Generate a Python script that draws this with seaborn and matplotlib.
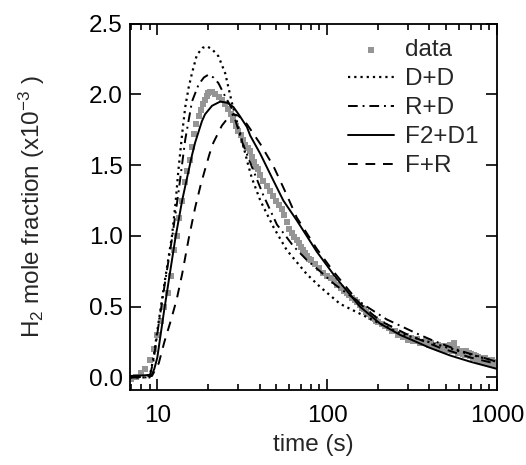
import numpy as np
import pandas as pd
import seaborn as sns
import matplotlib.pyplot as plt

# measured H2 signal (x1e-3)
t_data = [7.0, 7.5, 8.0, 8.5, 9.0, 9.5, 10.0, 10.5, 11.0, 11.5, 12.0, 12.5, 13.0, 13.5,
          14.0, 14.5, 15.0, 15.5, 16.0, 16.5, 17.0, 17.5, 18.0, 18.5, 19.0, 19.5, 20.0,
          20.5, 21, 22, 23, 24, 25, 26, 27, 28, 29, 30, 31, 32, 33, 34, 35, 36, 37, 38,
          39, 40, 42, 44, 46, 48, 50, 52, 54, 56, 58, 60, 62, 64, 66, 68, 70, 72, 74, 76,
          78, 80, 85, 90, 95, 100, 105, 110, 115, 120, 125, 130, 135, 140, 145, 150, 155,
          160, 165, 170, 175, 180, 185, 190, 195, 200, 210, 220, 230, 240, 250, 260, 270,
          280, 290, 300, 310, 320, 330, 340, 350, 360, 370, 380, 390, 400, 410, 420, 430,
          440, 450, 460, 470, 480, 490, 500, 510, 520, 530, 540, 550, 560, 570, 580, 590,
          600, 610, 620, 630, 640, 650, 660, 670, 680, 690, 700, 710, 720, 730, 740, 750,
          760, 770, 780, 790, 800, 810, 820, 830, 840, 850, 860, 870, 880, 890, 900, 910,
          920, 930, 940, 950, 960, 970, 980, 990, 1000]
h2_data = [-0.01, 0.0, 0.03, 0.06, 0.12, 0.20, 0.30, 0.40, 0.50, 0.60, 0.72, 0.90, 1.00,
           1.13, 1.25, 1.38, 1.46, 1.54, 1.63, 1.72, 1.79, 1.85, 1.89, 1.93, 1.96, 1.99,
           2.01, 2.02, 2.02, 2.00, 1.98, 1.96, 1.93, 1.90, 1.86, 1.82, 1.78, 1.74, 1.71,
           1.68, 1.64, 1.62, 1.60, 1.56, 1.52, 1.49, 1.47, 1.43, 1.39, 1.35, 1.32, 1.28,
           1.25, 1.22, 1.19, 1.15, 1.10, 1.05, 1.02, 0.99, 0.97, 0.95, 0.92, 0.90, 0.88,
           0.86, 0.84, 0.83, 0.80, 0.77, 0.74, 0.72, 0.70, 0.68, 0.65, 0.63, 0.61, 0.60,
           0.58, 0.56, 0.55, 0.53, 0.51, 0.49, 0.48, 0.46, 0.45, 0.43, 0.42, 0.41, 0.40,
           0.39, 0.375, 0.36, 0.35, 0.325, 0.33, 0.30, 0.31, 0.285, 0.29, 0.265, 0.275,
           0.26, 0.255, 0.27, 0.245, 0.25, 0.24, 0.255, 0.235, 0.23, 0.24, 0.22, 0.225,
           0.215, 0.23, 0.205, 0.215, 0.20, 0.225, 0.205, 0.195, 0.21, 0.23, 0.19, 0.20,
           0.24, 0.185, 0.20, 0.175, 0.19, 0.17, 0.185, 0.165, 0.175, 0.16, 0.185, 0.155,
           0.17, 0.15, 0.165, 0.15, 0.14, 0.155, 0.135, 0.15, 0.13, 0.145, 0.12, 0.14,
           0.125, 0.135, 0.115, 0.13, 0.12, 0.135, 0.11, 0.125, 0.10, 0.12, 0.105, 0.115,
           0.10, 0.125, 0.095, 0.11, 0.09, 0.105, 0.085, 0.10, 0.09]

# model curves
t_dd = [6.9, 9.0, 9.5, 10.2, 11.1, 12.2, 12.8, 13.3, 14.0, 14.6, 15.3, 16.0, 17.1, 18.5,
        19.6, 21.0, 22.9, 25.1, 27.5, 30.8, 34.3, 36.0, 40.4, 48.4, 57.8, 75.8, 90.8, 119,
        156, 205, 269, 424, 662, 1000]
h2_dd = [0.0, 0.0, 0.14, 0.40, 0.69, 1.00, 1.23, 1.46, 1.72, 1.91, 2.05, 2.15, 2.28,
         2.33, 2.34, 2.32, 2.27, 2.15, 1.94, 1.72, 1.50, 1.41, 1.25, 1.06, 0.90, 0.73,
         0.64, 0.52, 0.45, 0.38, 0.31, 0.24, 0.17, 0.11]

t_rd = [6.9, 9.0, 9.5, 10.2, 11.1, 12.2, 13.3, 14.6, 16.0, 17.5, 18.8, 20.0, 21.4, 22.9,
        25.0, 27.5, 31.2, 36.0, 42.0, 50.6, 57.8, 63.0, 75.8, 90.8, 110, 143, 224, 337,
        420, 600, 1000]
h2_rd = [0.0, 0.0, 0.12, 0.38, 0.67, 0.98, 1.30, 1.68, 1.95, 2.07, 2.12, 2.14, 2.12,
         2.08, 1.99, 1.90, 1.68, 1.49, 1.29, 1.08, 0.99, 0.93, 0.83, 0.75, 0.66, 0.56,
         0.41, 0.31, 0.26, 0.19, 0.11]

t_fd = [6.9, 8.5, 9.3, 9.6, 10.0, 10.9, 11.7, 12.8, 14.0, 14.9, 16.0, 16.7, 18.3, 19.1,
        21.0, 23.5, 26.0, 28.1, 30.5, 33.7, 35.2, 40.4, 48.3, 55.2, 66.2, 86.7, 108.6,
        119, 156, 205, 269, 308, 400, 529, 700, 1000]
h2_fd = [0.01, 0.015, 0.02, 0.06, 0.14, 0.45, 0.69, 0.99, 1.25, 1.40, 1.57, 1.66, 1.81,
         1.86, 1.92, 1.95, 1.94, 1.91, 1.85, 1.77, 1.71, 1.58, 1.39, 1.25, 1.11, 0.89,
         0.73, 0.67, 0.50, 0.38, 0.30, 0.27, 0.21, 0.155, 0.11, 0.06]

t_fr = [6.9, 9.3, 10.2, 11.0, 12.0, 13.0, 14.0, 15.3, 16.7, 18.0, 19.1, 20.3, 21.4, 24.0,
        26.3, 28.1, 30.0, 33.7, 40.4, 48.4, 52.9, 57.8, 66.2, 86.7, 108.6, 156, 205, 300,
        460, 700, 1000]
h2_fr = [0.0, 0.01, 0.10, 0.25, 0.40, 0.55, 0.73, 0.98, 1.20, 1.36, 1.47, 1.58, 1.66,
         1.78, 1.84, 1.86, 1.85, 1.79, 1.65, 1.49, 1.39, 1.29, 1.13, 0.91, 0.75, 0.52,
         0.40, 0.30, 0.21, 0.14, 0.095]

sns.set_style("ticks")
plt.rcParams['font.family'] = ['Liberation Sans', 'DejaVu Sans']
plt.rcParams['mathtext.default'] = 'regular'
fs = 17.5

fig, ax = plt.subplots(figsize=(5.26, 4.65), dpi=100)
fig.subplots_adjust(left=0.247, right=0.945, bottom=0.161, top=0.949)

sns.scatterplot(x=t_data, y=h2_data, marker="s", s=18, color="#959595",
                linewidth=0, label="data", ax=ax, zorder=1)
lw = 1.4
sns.lineplot(x=t_dd, y=h2_dd, color="black", lw=1.6, linestyle=(0, (1.0, 1.8)),
             label="D+D", ax=ax, zorder=3)
sns.lineplot(x=t_rd, y=h2_rd, color="black", lw=lw, linestyle=(0, (5, 2.5, 1, 2.5)),
             label="R+D", ax=ax, zorder=3)
sns.lineplot(x=t_fd, y=h2_fd, color="black", lw=lw, linestyle="-",
             label="F2+D1", ax=ax, zorder=3)
sns.lineplot(x=t_fr, y=h2_fr, color="black", lw=lw, linestyle=(0, (5, 4)),
             label="F+R", ax=ax, zorder=3)

ax.set_xscale("log")
ax.set_xlim(6.9, 1000)
ax.set_ylim(-0.09, 2.5)
ax.set_xticks([10, 100, 1000], labels=["10", "100", "1000"])
ax.set_yticks([0.0, 0.5, 1.0, 1.5, 2.0, 2.5],
              labels=["0.0", "0.5", "1.0", "1.5", "2.0", "2.5"])
ax.minorticks_on()
ax.yaxis.set_minor_locator(plt.NullLocator())
ax.tick_params(which="both", direction="in", top=True, right=True, width=1.2,
               labelsize=fs, colors="black")
ax.tick_params(which="major", length=8)
ax.tick_params(which="minor", length=4)
ax.tick_params(axis="x", pad=11)
ax.tick_params(axis="y", pad=5)
for sp in ax.spines.values():
    sp.set_linewidth(1.3)
    sp.set_color("black")

ax.set_xlabel("time (s)", fontsize=fs, labelpad=5)
ax.set_ylabel("H$_2$ mole fraction (x10$^{-3}$ )", fontsize=fs, labelpad=30)

ax.legend(loc="upper right", bbox_to_anchor=(0.975, 0.985), frameon=False, fontsize=fs,
          handlelength=1.9, handletextpad=0.45, labelspacing=0.29, borderaxespad=0,
          scatterpoints=1)

plt.savefig("out.png", dpi=100)
